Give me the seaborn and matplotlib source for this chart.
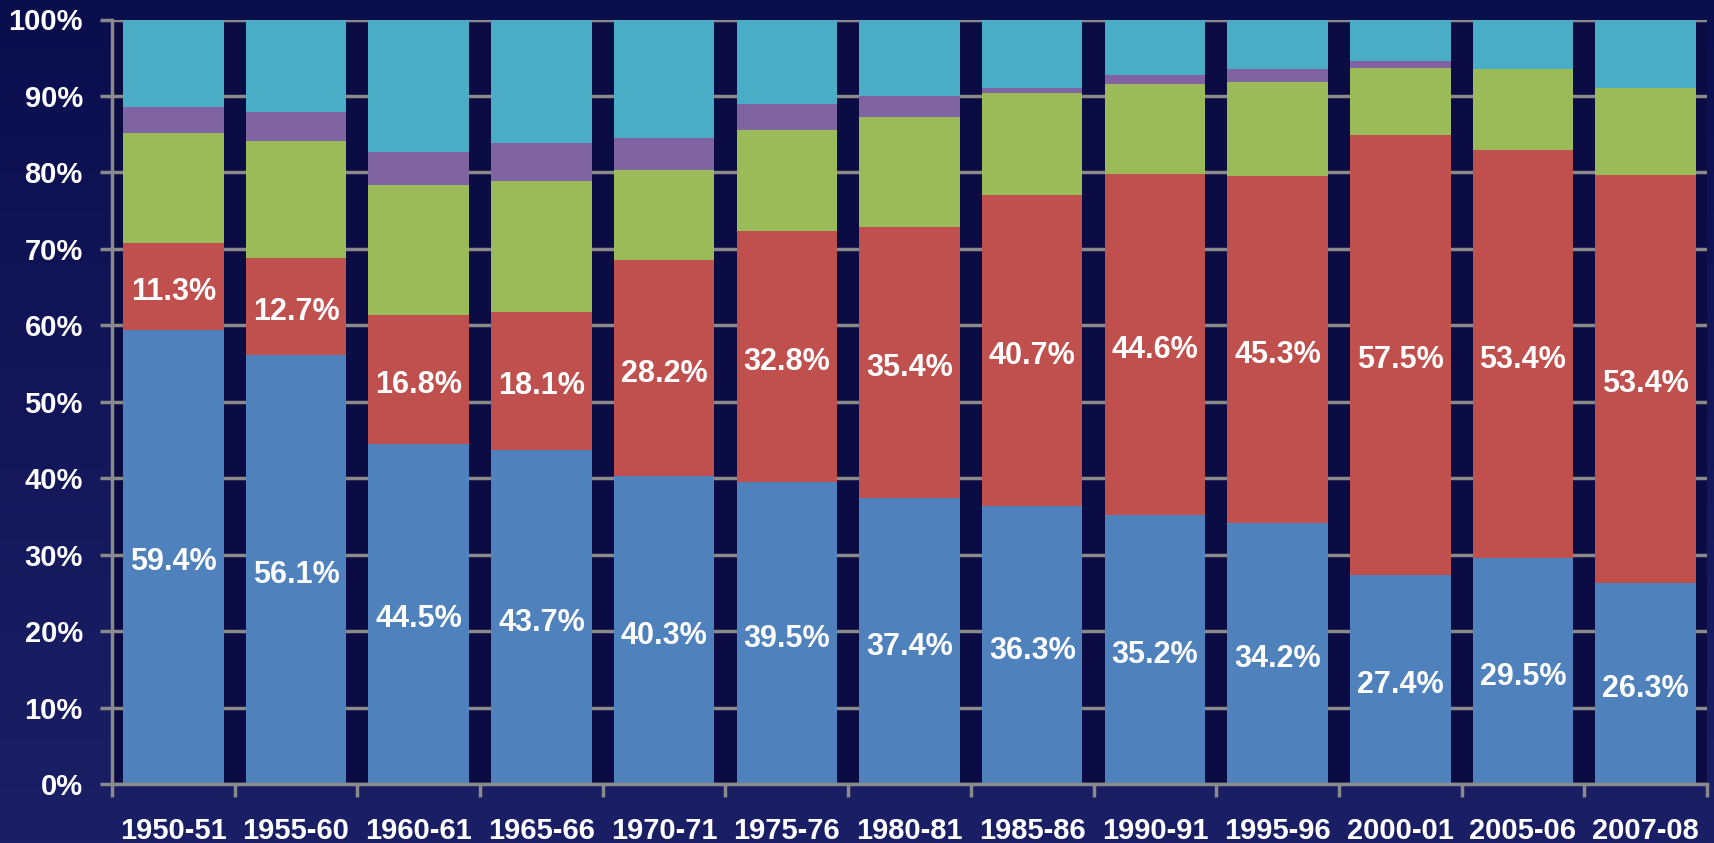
import numpy as np
import pandas as pd
import seaborn as sns
import matplotlib.pyplot as plt
from matplotlib.colors import LinearSegmentedColormap

# Share of each group per period (percent of total)
years = ["1950-51", "1955-60", "1960-61", "1965-66", "1970-71", "1975-76", "1980-81",
         "1985-86", "1990-91", "1995-96", "2000-01", "2005-06", "2007-08"]
blue = [59.4, 56.1, 44.5, 43.7, 40.3, 39.5, 37.4, 36.3, 35.2, 34.2, 27.4, 29.5, 26.3]
red = [11.3, 12.7, 16.8, 18.1, 28.2, 32.8, 35.4, 40.7, 44.6, 45.3, 57.5, 53.4, 53.4]
green = [14.5, 15.3, 17.0, 17.1, 11.8, 13.3, 14.5, 13.4, 11.7, 12.3, 8.7, 10.6, 11.4]
purple = [3.4, 3.8, 4.4, 4.9, 4.2, 3.4, 2.7, 0.6, 1.3, 1.7, 1.0, 0.0, 0.0]
cyan = [11.4, 12.1, 17.3, 16.2, 15.5, 11.0, 10.0, 9.0, 7.2, 6.5, 5.4, 6.5, 8.9]

series = ["blue", "red", "green", "purple", "cyan"]
colors = ["#4F81BD", "#C0504D", "#9BBB59", "#8064A2", "#4BACC6"]

df = pd.DataFrame({"year": years, "blue": blue, "red": red, "green": green,
                   "purple": purple, "cyan": cyan})
cum = df[series].cumsum(axis=1)

sns.set_style("ticks")
plt.rcParams["font.family"] = ["Liberation Sans", "DejaVu Sans"]
plt.rcParams["font.weight"] = "bold"

fig = plt.figure(figsize=(17.14, 8.43), dpi=100)

# navy gradient backdrop
bg = fig.add_axes([0, 0, 1, 1], zorder=-10)
grad = np.linspace(0, 1, 256).reshape(-1, 1)
cmap = LinearSegmentedColormap.from_list("navy", ["#1b2066", "#0b0e4d"])
bg.imshow(grad, aspect="auto", cmap=cmap, extent=[0, 1, 0, 1], origin="lower")
bg.axis("off")

W, H = 1714, 843
ax = fig.add_axes([112 / W, 1 - 784 / H, (1707 - 112) / W, (784 - 19.5) / H])
ax.set_facecolor("#0c0c44")

# stacked bars: draw cumulative totals from the top layer down
for col, color in reversed(list(zip(series, colors))):
    sns.barplot(x=df["year"], y=cum[col], order=years, color=color, saturation=1,
                width=0.82, edgecolor="none", linewidth=0, ax=ax)

# value labels on the two lower segments
for i in range(len(years)):
    for y, v in ((blue[i] / 2, blue[i]), (blue[i] + red[i] / 2, red[i])):
        ax.annotate(f"{v:.1f}%", (i, y), xytext=(0, -4), textcoords="offset points",
                    ha="center", va="center", color="white", fontsize=22,
                    fontweight="bold")

grid_c = "#8a8a8a"
ax.set_ylim(0, 100)
ax.set_xlim(-0.5, len(years) - 0.5)
ax.set_yticks(range(0, 101, 10))
ax.set_yticklabels([f"{v}%" for v in range(0, 101, 10)], fontsize=21,
                   fontweight="bold", color="white")
ax.set_xticks(range(len(years)))
ax.set_xticklabels(years, fontsize=21, fontweight="bold", color="white")
ax.set_xticks(np.arange(-0.5, len(years), 1), minor=True)
ax.tick_params(axis="x", which="major", length=0, pad=24)
ax.tick_params(axis="x", which="minor", length=9, width=2.5, color=grid_c)
ax.tick_params(axis="y", length=9, width=2.5, color=grid_c, pad=12)
ax.set_xlabel("")
ax.set_ylabel("")

ax.yaxis.grid(True, color=grid_c, linewidth=2.5)
ax.set_axisbelow(True)
for s in ["top", "right"]:
    ax.spines[s].set_visible(False)
for s in ["left", "bottom"]:
    ax.spines[s].set_color(grid_c)
    ax.spines[s].set_linewidth(2.5)

fig.savefig("out.png", dpi=100)
